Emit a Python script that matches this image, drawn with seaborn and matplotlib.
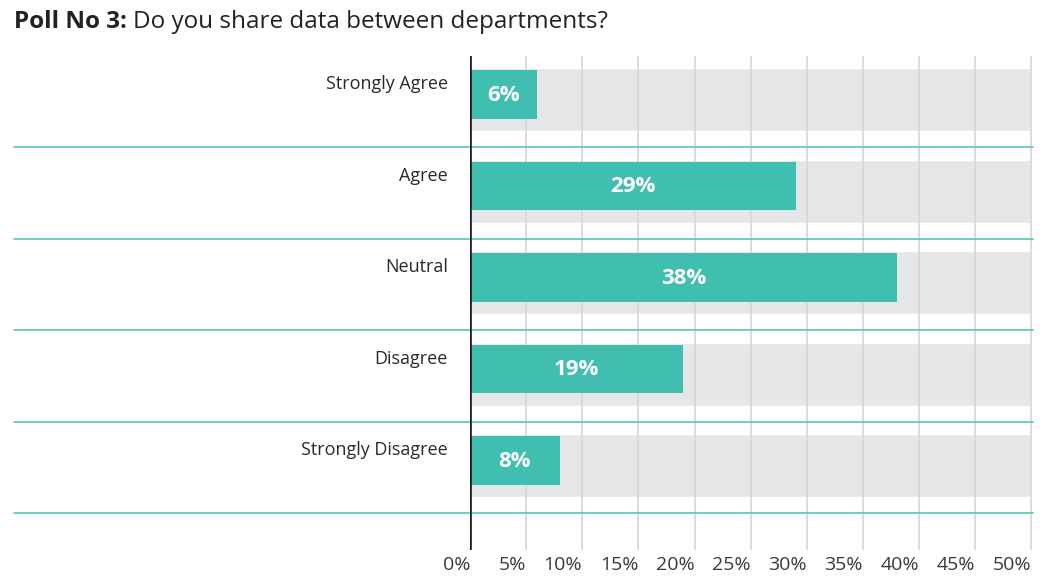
import matplotlib
matplotlib.use("Agg")
import matplotlib.pyplot as plt
import numpy as np
import seaborn as sns

categories = ["Strongly Agree", "Agree", "Neutral", "Disagree", "Strongly Disagree"]
values = [6, 29, 38, 19, 8]
ticks = list(range(0, 55, 5))
tick_labels = [f"{t}%" for t in ticks]

teal = "#40bfb1"
band = "#e5e6e8"
sep = "#5fcabd"

sns.set_style("white")
plt.rcParams["font.family"] = ["Open Sans", "DejaVu Sans"]

fig = plt.figure(figsize=(10.4, 5.77), dpi=100)
ax = fig.add_axes([470 / 1040, 1 - 550 / 577, 563 / 1040, (550 - 56) / 577])

pos = np.arange(len(categories))

# grey background bands
ax.barh(pos + 0.06, 50, height=0.69, color=band, zorder=1)

# vertical grid
for t in ticks[1:]:
    ax.axvline(t, color="#d6d6d8", lw=1.2, zorder=2)

sns.barplot(x=values, y=categories, orient="h", width=0.53, color=teal,
            saturation=1, linewidth=0, ax=ax, zorder=3)

for i, v in enumerate(values):
    ax.text(v / 2, i + 0.01, f"{v}%", color="white", fontsize=16, fontweight="bold",
            ha="center", va="center", zorder=4)
    ax.text(-1.95, i - 0.11, categories[i], color="#2a2a2a", fontsize=13,
            ha="right", va="center", clip_on=False)
    ax.axhline(i + 0.58, xmin=-456 / 563, xmax=1, color=sep, lw=1.3,
               clip_on=False, zorder=2)

ax.axvline(0, color="#1a1a1a", lw=2.6, zorder=5)

ax.set_xlim(0, 50.15)
ax.set_ylim(4.98, -0.42)
ax.set_yticks([])
ax.set_ylabel("")
ax.set_xlabel("")
ax.set_xticks(ticks)
ax.set_xticklabels(tick_labels, ha="right", fontsize=14, color="#3a3a3a")
ax.tick_params(axis="x", length=0, pad=4)
for s in ax.spines.values():
    s.set_visible(False)

t1 = fig.text(14 / 1040, 1 - 28 / 577, "Poll No 3:", fontsize=17.5,
              fontweight="bold", color="#222222", va="baseline", ha="left")
fig.canvas.draw()
bb = t1.get_window_extent()
fig.text((bb.x1 + 6) / 1040, 1 - 28 / 577, "Do you share data between departments?",
         fontsize=17.5, color="#222222", va="baseline", ha="left")

fig.savefig("out.png", dpi=100)
